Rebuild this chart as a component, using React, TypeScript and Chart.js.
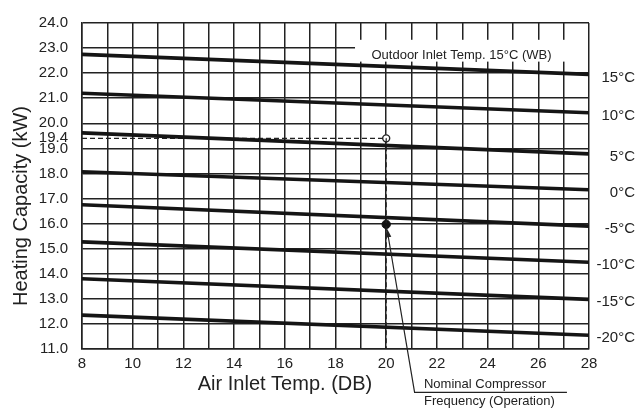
import React, { useEffect, useRef } from 'react';
import { Chart, registerables } from 'chart.js';
Chart.register(...registerables);

// ---- data ----
const airInletTemps = [8, 28];
const outdoorLabels = ['15°C', '10°C', '5°C', '0°C', '-5°C', '-10°C', '-15°C', '-20°C'];
const capacityAt8 = [22.75, 21.2, 19.62, 18.07, 16.75, 15.27, 13.8, 12.35];
const capacityAt28 = [21.95, 20.42, 18.78, 17.35, 15.9, 14.46, 12.98, 11.55];
const yTickValues = [11, 12, 13, 14, 15, 16, 17, 18, 19, 19.4, 20, 21, 22, 23, 24];
const refTemp = 20;
const refCapacity = 19.4;
const nominalCapacity = 15.97;
const yMin = 11;
const annotationTitle = 'Outdoor Inlet Temp. 15°C (WB)';
const nominalText = ['Nominal Compressor', 'Frequency (Operation)'];
const xTitle = 'Air Inlet Temp. (DB)';
const yTitle = 'Heating Capacity (kW)';

const FONT = '"Liberation Sans", Arial, Helvetica, sans-serif';
const INK = '#222';

export default function App() {
  const ref = useRef<HTMLCanvasElement | null>(null);
  useEffect(() => {
    if (!ref.current) return;
    const curveSets = outdoorLabels.map((lab, i) => ({
      label: lab,
      data: [
        { x: airInletTemps[0], y: capacityAt8[i] },
        { x: airInletTemps[1], y: capacityAt28[i] },
      ],
      borderColor: '#151515',
      borderWidth: 3.6,
      pointRadius: 0,
      tension: 0,
    }));
    const overlay = {
      id: 'overlay',
      beforeDatasetsDraw(chart: any) {
        const { ctx, scales, chartArea } = chart;
        const xs = scales.x, ys = scales.y;
        ctx.save();
        ctx.fillStyle = '#fff';
        const bx = xs.getPixelForValue(18.77);
        const by = ys.getPixelForValue(23.33);
        const bb = ys.getPixelForValue(22.46);
        ctx.fillRect(bx, by, chartArea.right - 1 - bx, bb - by);
        ctx.fillStyle = INK;
        ctx.font = `13px ${FONT}`;
        ctx.textAlign = 'center';
        ctx.textBaseline = 'alphabetic';
        ctx.fillText(annotationTitle, xs.getPixelForValue(22.97), ys.getPixelForValue(22.56));
        ctx.restore();
      },
      afterDraw(chart: any) {
        const { ctx, scales, chartArea } = chart;
        const xs = scales.x, ys = scales.y;
        ctx.save();
        ctx.fillStyle = INK;
        // right labels
        ctx.font = `15px ${FONT}`;
        ctx.textAlign = 'right';
        ctx.textBaseline = 'middle';
        outdoorLabels.forEach((lab, i) => {
          ctx.fillText(lab, 635, ys.getPixelForValue(capacityAt28[i]) + 3);
        });
        // arrow
        const px = xs.getPixelForValue(refTemp);
        const py = ys.getPixelForValue(nominalCapacity);
        const ex = xs.getPixelForValue(21.12);
        const ey = ys.getPixelForValue(9.27);
        const dx = ex - px, dy = ey - py;
        const len = Math.hypot(dx, dy);
        const ux = dx / len, uy = dy / len;
        const sx = px + ux * 4, sy = py + uy * 4;
        ctx.strokeStyle = INK;
        ctx.lineWidth = 1.2;
        ctx.beginPath();
        ctx.moveTo(sx + ux * 6, sy + uy * 6);
        ctx.lineTo(ex, ey);
        ctx.lineTo(xs.getPixelForValue(27.13), ey);
        ctx.stroke();
        ctx.beginPath();
        ctx.moveTo(sx, sy);
        ctx.lineTo(sx + ux * 9 - uy * 3, sy + uy * 9 + ux * 3);
        ctx.lineTo(sx + ux * 9 + uy * 3, sy + uy * 9 - ux * 3);
        ctx.closePath();
        ctx.fill();
        ctx.font = `13px ${FONT}`;
        ctx.textAlign = 'left';
        ctx.textBaseline = 'middle';
        const tx = xs.getPixelForValue(21.49);
        ctx.fillText(nominalText[0], tx, ey - 8);
        ctx.fillText(nominalText[1], tx, ey + 9);
        // axis titles
        ctx.font = `20px ${FONT}`;
        ctx.textAlign = 'center';
        ctx.textBaseline = 'alphabetic';
        ctx.fillText(xTitle, 285, 390);
        ctx.translate(27, 206);
        ctx.rotate(-Math.PI / 2);
        ctx.fillText(yTitle, 0, 0);
        ctx.restore();
      },
    };
    const chart = new Chart(ref.current, {
      type: 'line',
      data: {
        datasets: [
          ...curveSets,
          {
            label: 'ref-h',
            data: [{ x: airInletTemps[0], y: refCapacity }, { x: refTemp, y: refCapacity }],
            borderColor: INK,
            borderWidth: 1.2,
            borderDash: [5, 3],
            pointRadius: 0,
          },
          {
            label: 'ref-v',
            data: [{ x: refTemp, y: refCapacity }, { x: refTemp, y: yMin }],
            borderColor: INK,
            borderWidth: 1.2,
            borderDash: [5, 3],
            pointRadius: 0,
          },
          {
            label: 'ref-point',
            data: [{ x: refTemp, y: refCapacity }],
            borderColor: INK,
            backgroundColor: '#fff',
            borderWidth: 1.4,
            pointRadius: 3.5,
            showLine: false,
          },
          {
            label: 'nominal',
            data: [{ x: refTemp, y: nominalCapacity }],
            borderColor: '#111',
            backgroundColor: '#111',
            pointRadius: 4.2,
            showLine: false,
          },
        ] as any,
      },
      options: {
        animation: false,
        responsive: true,
        maintainAspectRatio: false,
        layout: { padding: { left: 0, right: 49, top: 20, bottom: 0 } },
        plugins: { legend: { display: false }, tooltip: { enabled: false } },
        scales: {
          x: {
            type: 'linear',
            min: 8,
            max: 28,
            afterFit: (s: any) => { s.height = 61; },
            ticks: {
              stepSize: 1,
              autoSkip: false,
              maxRotation: 0,
              padding: 6,
              color: INK,
              font: { family: FONT, size: 15 },
              callback: (v: any) => (Number(v) % 2 === 0 ? String(v) : ''),
            },
            grid: { color: INK, lineWidth: 1.5, drawTicks: false },
            border: { color: INK, width: 1.5 },
          },
          y: {
            type: 'linear',
            min: 11,
            max: 24,
            afterFit: (s: any) => { s.width = 82; },
            afterBuildTicks: (s: any) => { s.ticks = yTickValues.map((v) => ({ value: v })); },
            ticks: {
              autoSkip: false,
              padding: 14,
              color: INK,
              font: { family: FONT, size: 15 },
              callback: (v: any) => Number(v).toFixed(1),
            },
            grid: {
              color: (c: any) => (c.tick && c.tick.value === refCapacity ? 'rgba(0,0,0,0)' : INK),
              lineWidth: 1.5,
              drawTicks: false,
            },
            border: { color: INK, width: 1.5 },
          },
        },
      },
      plugins: [overlay],
    } as any);
    return () => chart.destroy();
  }, []);
  return (
    <div style={{ position: 'absolute', left: 0, top: 0, width: 638, height: 410, background: '#fff' }}>
      <canvas ref={ref} />
    </div>
  );
}
